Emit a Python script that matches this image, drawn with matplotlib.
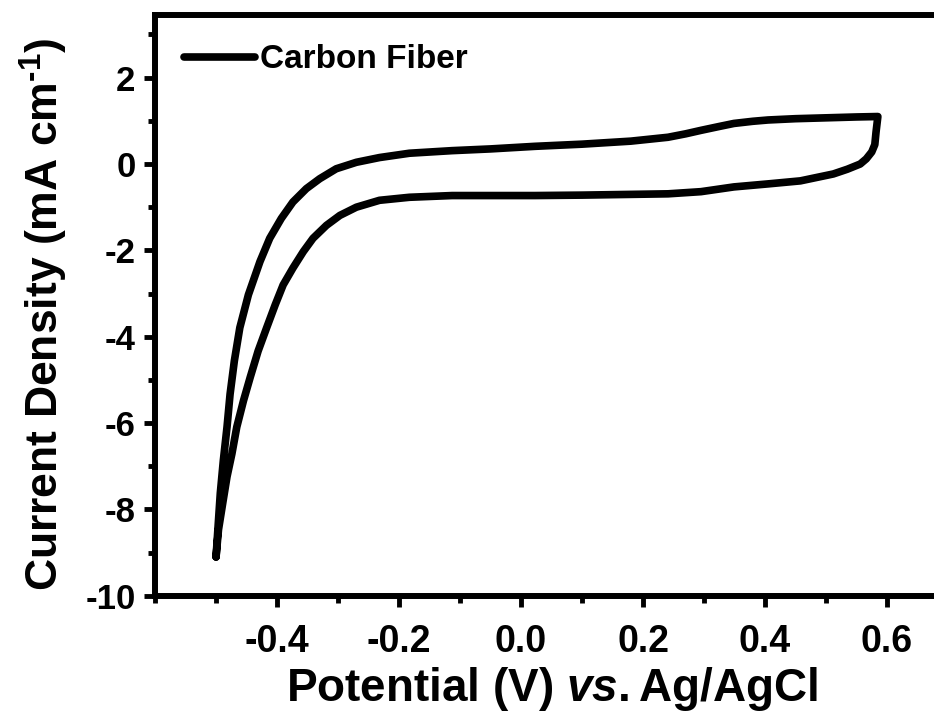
import numpy as np
import matplotlib
matplotlib.use("Agg")
import matplotlib.pyplot as plt
from matplotlib.ticker import MultipleLocator

plt.rcParams['font.family'] = ['Liberation Sans', 'DejaVu Sans']
plt.rcParams['font.weight'] = 'bold'
plt.rcParams['axes.labelweight'] = 'bold'
plt.rcParams['axes.unicode_minus'] = False
plt.rcParams['mathtext.fontset'] = 'custom'
plt.rcParams['mathtext.rm'] = 'Liberation Sans:bold'
plt.rcParams['mathtext.it'] = 'Liberation Sans:italic:bold'
plt.rcParams['mathtext.bf'] = 'Liberation Sans:bold'

# forward scan (upper branch), -0.5 V -> 0.585 V
fwd_x = [-0.500, -0.493, -0.488, -0.482, -0.477, -0.470, -0.461, -0.447, -0.428,
         -0.412, -0.393, -0.374, -0.352, -0.330, -0.303, -0.270, -0.232, -0.183,
         -0.113, -0.050, 0.023, 0.100, 0.180, 0.241, 0.270, 0.295, 0.325,
         0.349, 0.380, 0.405, 0.450, 0.500, 0.550, 0.585]
fwd_y = [-9.10, -7.62, -6.86, -6.09, -5.33, -4.56, -3.79, -3.03, -2.26,
         -1.72, -1.26, -0.88, -0.57, -0.34, -0.11, 0.04, 0.15, 0.25,
         0.31, 0.35, 0.41, 0.46, 0.53, 0.62, 0.70, 0.78, 0.87,
         0.94, 0.99, 1.02, 1.05, 1.07, 1.09, 1.10]

# reverse scan (lower branch), 0.585 V -> -0.5 V
rev_x = [0.585, 0.582, 0.580, 0.575, 0.566, 0.556, 0.535, 0.512, 0.458, 0.405,
         0.349, 0.295, 0.241, 0.100, 0.023, -0.113, -0.183, -0.232, -0.270,
         -0.297, -0.319, -0.341, -0.357, -0.374, -0.390, -0.403, -0.417, -0.431,
         -0.444, -0.455, -0.466, -0.474, -0.482, -0.489, -0.496, -0.500]
rev_y = [1.10, 0.74, 0.45, 0.28, 0.12, 0.00, -0.12, -0.23, -0.39, -0.46,
         -0.53, -0.64, -0.69, -0.72, -0.73, -0.73, -0.77, -0.84, -1.00,
         -1.19, -1.42, -1.72, -2.03, -2.41, -2.80, -3.26, -3.79, -4.33,
         -4.94, -5.48, -6.09, -6.71, -7.24, -7.85, -8.47, -9.10]

xticks = [-0.4, -0.2, 0.0, 0.2, 0.4, 0.6]
yticks = [-10, -8, -6, -4, -2, 0, 2]

fig = plt.figure(figsize=(9.34, 7.17), dpi=100)
ax = fig.add_axes([0.166, 0.169, 0.849, 0.810])

ax.plot(np.concatenate([fwd_x, rev_x]), np.concatenate([fwd_y, rev_y]),
        color='black', lw=5.5, solid_joinstyle='round', solid_capstyle='round',
        label='Carbon Fiber')

ax.set_xlim(-0.6, 0.7)
ax.set_ylim(-10, 3.45)
ax.set_xticks(xticks)
ax.set_xticklabels(['%.1f' % v for v in xticks])
ax.set_yticks(yticks)
ax.xaxis.set_minor_locator(MultipleLocator(0.1))
ax.yaxis.set_minor_locator(MultipleLocator(1))

for s in ['left', 'bottom', 'top']:
    ax.spines[s].set_linewidth(4.3)
ax.spines['right'].set_visible(False)

ax.tick_params(which='major', direction='out', length=8, width=3.5, top=False, right=False)
ax.tick_params(which='minor', direction='out', length=5, width=3.5, top=False, right=False)
ax.tick_params(axis='x', labelsize=27, pad=12)
ax.tick_params(axis='y', labelsize=25, pad=6)

ax.set_xlabel(r'Potential (V) $\mathit{vs.}$Ag/AgCl', fontsize=33, labelpad=4)
ax.set_ylabel(r'Current Density (mA cm$^{\text{-1}}$)', fontsize=32)
ax.yaxis.set_label_coords(-0.107, 0.484)

ax.legend(loc='center left', bbox_to_anchor=(0.036, 0.923), frameon=False,
          fontsize=24, handlelength=2.15, handletextpad=0.15,
          borderaxespad=0, borderpad=0)

fig.savefig('out.png', dpi=100)
